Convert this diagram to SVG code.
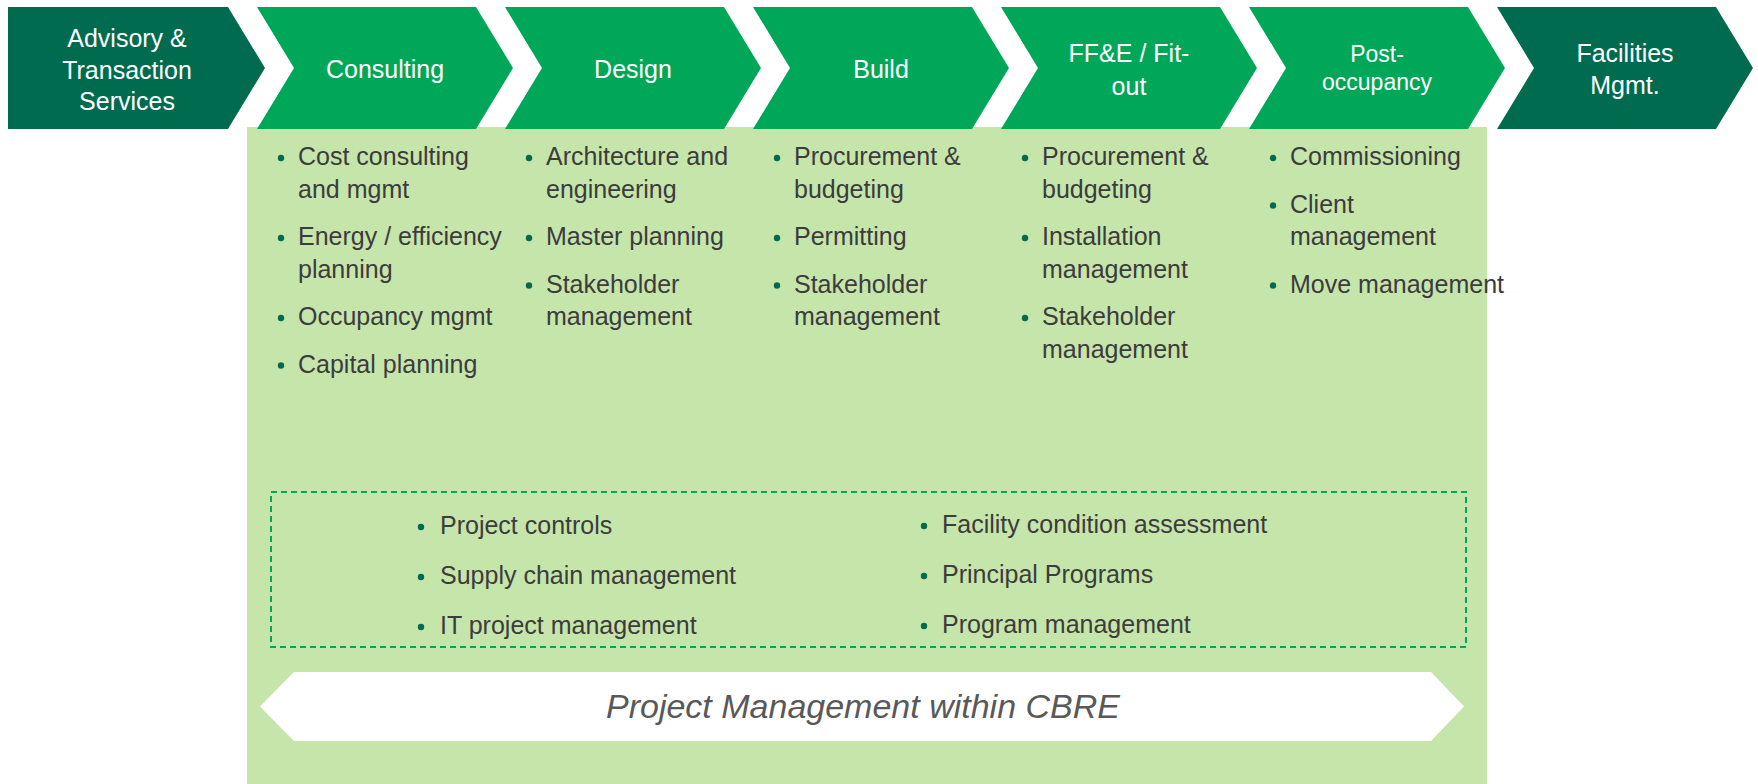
<svg xmlns="http://www.w3.org/2000/svg" width="1758" height="784" viewBox="0 0 1758 784">
<style>
.dark{fill:#006B4F}
.bright{fill:#00A758}
.hd{font-family:"Liberation Sans",Arial,sans-serif;font-size:25px;fill:#ffffff;text-anchor:middle}
.hds{font-family:"Liberation Sans",Arial,sans-serif;font-size:23px;fill:#ffffff;text-anchor:middle}
.it{font-family:"Liberation Sans",Arial,sans-serif;font-size:25px;fill:#3c3c3c}
.dot{fill:#006B4F}
.ban{font-family:"Liberation Sans",Arial,sans-serif;font-size:34px;font-style:italic;fill:#595959;text-anchor:middle}
</style>
<rect id="panel" x="247" y="127" width="1240" height="657" fill="#C5E5AB"/>
<g id="advisory"><path class="dark" d="M8,7 H228 L265,68 L228,129 H8 Z"/>
<text class="hd" x="127" y="47">Advisory &amp;</text><text class="hd" x="127" y="79">Transaction</text><text class="hd" x="127" y="110">Services</text></g>
<g id="consulting"><path class="bright" d="M257,7 H476 L513,68 L476,129 H257 L294,68 Z"/>
<text class="hd" x="385" y="78">Consulting</text></g>
<g id="design"><path class="bright" d="M505,7 H724 L761,68 L724,129 H505 L542,68 Z"/>
<text class="hd" x="633" y="78">Design</text></g>
<g id="build"><path class="bright" d="M753,7 H972 L1009,68 L972,129 H753 L790,68 Z"/>
<text class="hd" x="881" y="78">Build</text></g>
<g id="ffe"><path class="bright" d="M1001,7 H1220 L1257,68 L1220,129 H1001 L1038,68 Z"/>
<text class="hd" x="1129" y="62">FF&amp;E / Fit-</text><text class="hd" x="1129" y="95">out</text></g>
<g id="postocc"><path class="bright" d="M1249,7 H1468 L1505,68 L1468,129 H1249 L1286,68 Z"/>
<text class="hds" x="1377" y="62">Post-</text><text class="hds" x="1377" y="90">occupancy</text></g>
<g id="facilities"><path class="dark" d="M1497,7 H1716 L1753,68 L1716,129 H1497 L1534,68 Z"/>
<text class="hd" x="1625" y="62">Facilities</text><text class="hd" x="1625" y="94">Mgmt.</text></g>

<g id="col-consulting">
<circle class="dot" cx="281" cy="158" r="3.2"/><text class="it" x="298" y="165">Cost consulting</text><text class="it" x="298" y="197.5">and mgmt</text>
<circle class="dot" cx="281" cy="238" r="3.2"/><text class="it" x="298" y="245">Energy / efficiency</text><text class="it" x="298" y="277.5">planning</text>
<circle class="dot" cx="281" cy="318" r="3.2"/><text class="it" x="298" y="325">Occupancy mgmt</text>
<circle class="dot" cx="281" cy="365.5" r="3.2"/><text class="it" x="298" y="372.5">Capital planning</text>
</g>
<g id="col-design">
<circle class="dot" cx="529" cy="158" r="3.2"/><text class="it" x="546" y="165">Architecture and</text><text class="it" x="546" y="197.5">engineering</text>
<circle class="dot" cx="529" cy="238" r="3.2"/><text class="it" x="546" y="245">Master planning</text>
<circle class="dot" cx="529" cy="285.5" r="3.2"/><text class="it" x="546" y="292.5">Stakeholder</text><text class="it" x="546" y="325">management</text>
</g>
<g id="col-build">
<circle class="dot" cx="777" cy="158" r="3.2"/><text class="it" x="794" y="165">Procurement &amp;</text><text class="it" x="794" y="197.5">budgeting</text>
<circle class="dot" cx="777" cy="238" r="3.2"/><text class="it" x="794" y="245">Permitting</text>
<circle class="dot" cx="777" cy="285.5" r="3.2"/><text class="it" x="794" y="292.5">Stakeholder</text><text class="it" x="794" y="325">management</text>
</g>
<g id="col-ffe">
<circle class="dot" cx="1025" cy="158" r="3.2"/><text class="it" x="1042" y="165">Procurement &amp;</text><text class="it" x="1042" y="197.5">budgeting</text>
<circle class="dot" cx="1025" cy="238" r="3.2"/><text class="it" x="1042" y="245">Installation</text><text class="it" x="1042" y="277.5">management</text>
<circle class="dot" cx="1025" cy="318" r="3.2"/><text class="it" x="1042" y="325">Stakeholder</text><text class="it" x="1042" y="357.5">management</text>
</g>
<g id="col-postocc">
<circle class="dot" cx="1273" cy="158" r="3.2"/><text class="it" x="1290" y="165">Commissioning</text>
<circle class="dot" cx="1273" cy="205.5" r="3.2"/><text class="it" x="1290" y="212.5">Client</text><text class="it" x="1290" y="245">management</text>
<circle class="dot" cx="1273" cy="285.5" r="3.2"/><text class="it" x="1290" y="292.5">Move management</text>
</g>

<g id="shared-services">
<rect x="271" y="492" width="1195" height="155" fill="none" stroke="#00A758" stroke-width="2" stroke-dasharray="6 4"/>
<circle class="dot" cx="421" cy="527" r="3.2"/><text class="it" x="440" y="534">Project controls</text>
<circle class="dot" cx="421" cy="577" r="3.2"/><text class="it" x="440" y="584">Supply chain management</text>
<circle class="dot" cx="421" cy="627" r="3.2"/><text class="it" x="440" y="634">IT project management</text>
<circle class="dot" cx="924" cy="526" r="3.2"/><text class="it" x="942" y="533">Facility condition assessment</text>
<circle class="dot" cx="924" cy="576" r="3.2"/><text class="it" x="942" y="583">Principal Programs</text>
<circle class="dot" cx="924" cy="626" r="3.2"/><text class="it" x="942" y="633">Program management</text>
</g>

<g id="banner">
<path d="M260,706.5 L294,672 H1431 L1464,706.5 L1431,741 H294 Z" fill="#ffffff"/>
<text class="ban" x="863" y="718">Project Management within CBRE</text>
</g>
</svg>
